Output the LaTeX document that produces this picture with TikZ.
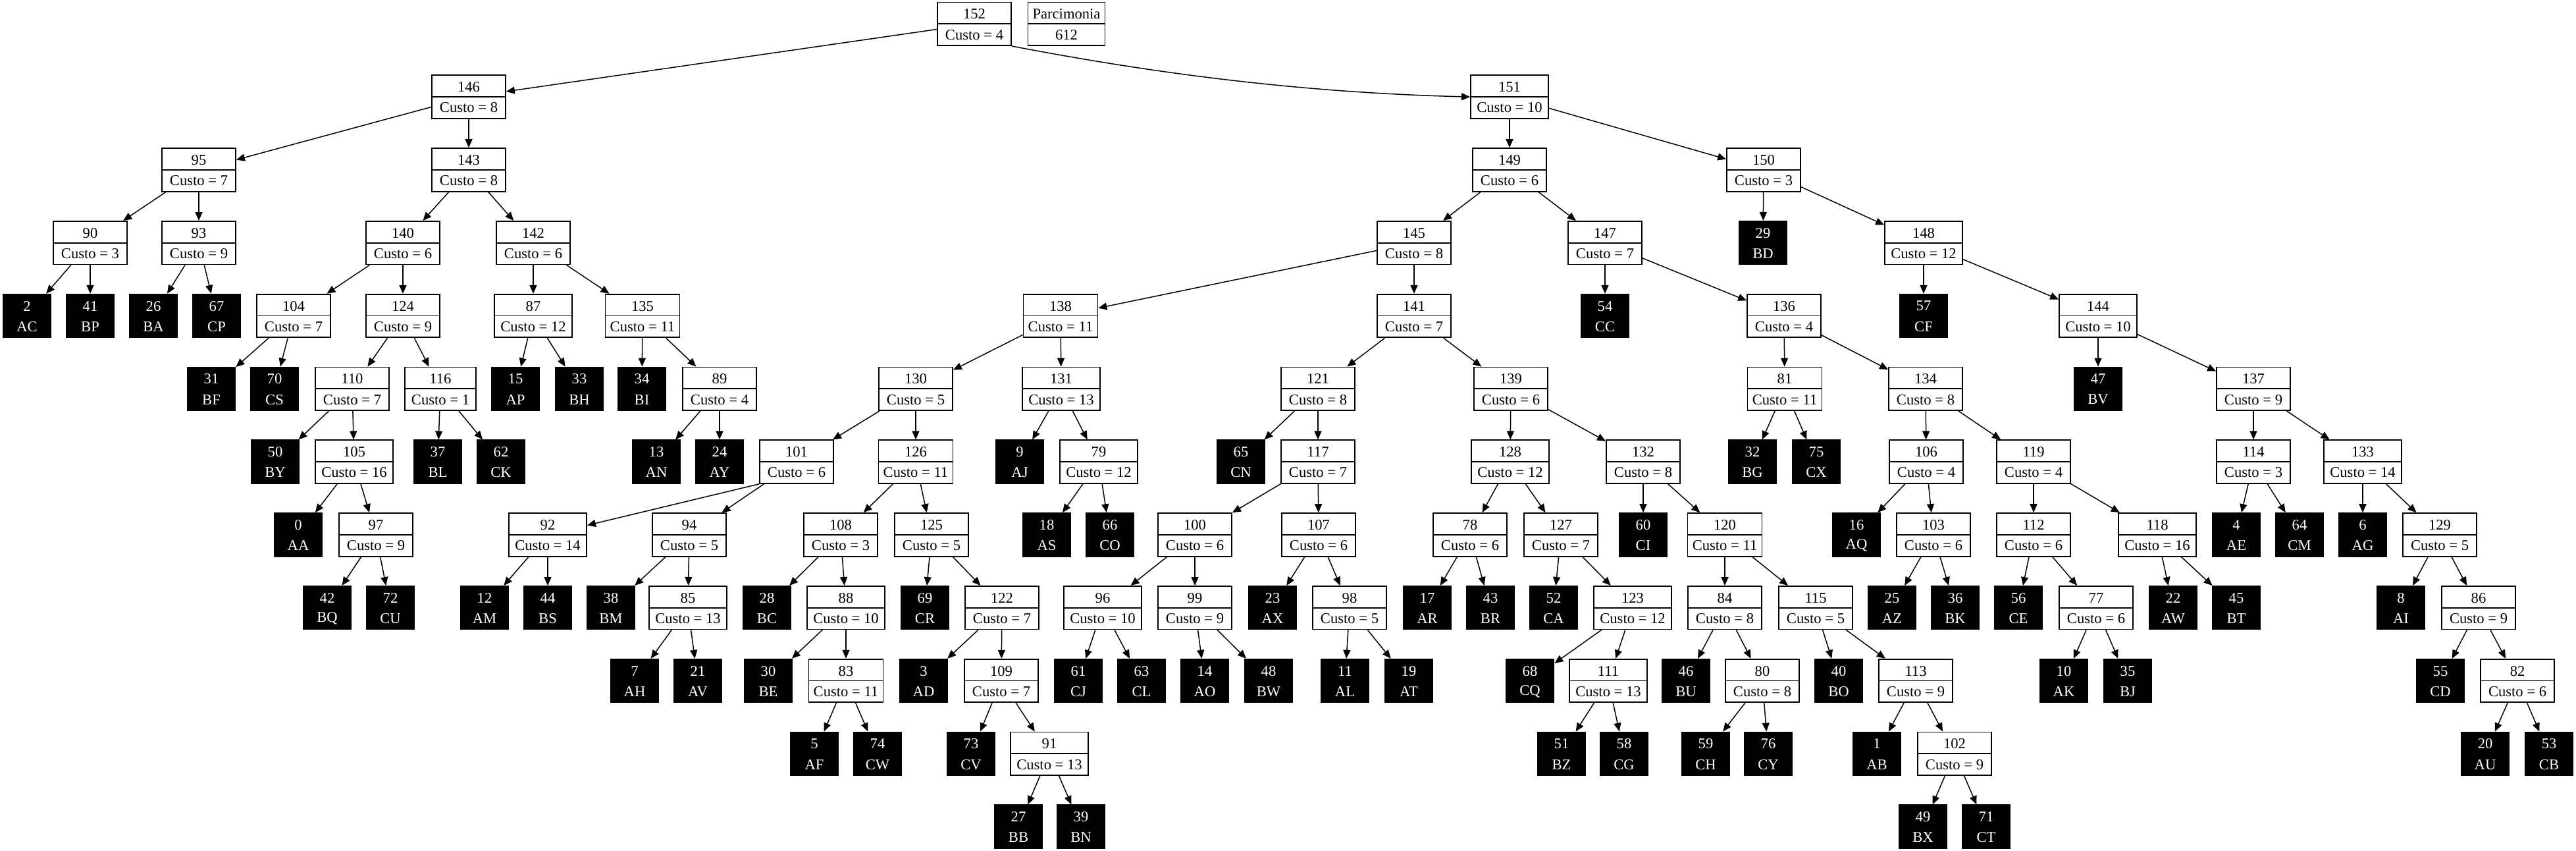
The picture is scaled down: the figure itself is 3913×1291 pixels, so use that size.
\documentclass[tikz,border=0pt]{standalone}
\usepackage{fontspec}
\setmainfont{Liberation Serif}
\usetikzlibrary{shapes.multipart,arrows.meta}
\def\nodew{56pt}
\newcommand\cellA[1]{\vbox to 15.5pt{\vfil\vskip1.6pt\hbox to \nodew{\hss #1\hss}\vfil}}
\newcommand\cellB[1]{\vbox to 15.5pt{\vfil\hbox to \nodew{\hss #1\hss}\vfil}}
\newcommand\mkin[4]{%
  \def\nodew{56pt}%
  \ifnum#2=1 \def\nodew{54pt}\fi
  \ifnum#2>9 \def\nodew{59pt}\fi
  \ifnum#2=11 \def\nodew{56.5pt}\fi
  \node[inn] (n#1) at (#3,{36.3+110.8*#4}) {\cellA{#1}\nodepart{two}\cellB{Custo = #2}};}
\newcommand\mklf[4]{%
  \def\nodew{36.5pt}%
  \node[lf] (n#1) at (#3,{36.3+110.8*#4}) {\cellA{#1}\nodepart{two}\cellB{#2}};}
\begin{document}
\begin{tikzpicture}[x=0.5pt,y=-0.5pt,
  box/.style={rectangle split, rectangle split parts=2, inner xsep=0pt, inner ysep=0pt,
    line width=0.9pt, font=\fontsize{11.3pt}{13pt}\selectfont},
  inn/.style={box, draw=black, fill=white},
  lf/.style={box, draw=black, fill=black, text=white},
  edge/.style={line width=0.75pt, -{Triangle[length=6.5pt,width=5.5pt]}}]
\useasboundingbox[fill=white] (0,0) rectangle (3913,1291);
% internal nodes
\mkin{152}{4}{1480}{0}
\begingroup\def\nodew{58.5pt}%
\node[inn] (parc) at (1620,36.3) {\cellA{Parcimonia}\nodepart{two}\cellB{612}};
\endgroup
\mkin{146}{8}{712}{1}
\mkin{151}{10}{2293}{1}
\mkin{95}{7}{302}{2}
\mkin{143}{8}{712}{2}
\mkin{149}{6}{2293}{2}
\mkin{150}{3}{2679}{2}
\mkin{90}{3}{137}{3}
\mkin{93}{9}{302}{3}
\mkin{140}{6}{612}{3}
\mkin{142}{6}{810}{3}
\mkin{145}{8}{2148}{3}
\mkin{147}{7}{2438}{3}
\mkin{148}{12}{2922}{3}
\mkin{104}{7}{446}{4}
\mkin{124}{9}{612}{4}
\mkin{87}{12}{810}{4}
\mkin{135}{11}{976}{4}
\mkin{138}{11}{1611}{4}
\mkin{141}{7}{2148}{4}
\mkin{136}{4}{2710}{4}
\mkin{144}{10}{3187}{4}
\mkin{110}{7}{535}{5}
\mkin{116}{1}{669}{5}
\mkin{89}{4}{1093}{5}
\mkin{130}{5}{1391}{5}
\mkin{131}{13}{1612}{5}
\mkin{121}{8}{2002}{5}
\mkin{139}{6}{2295}{5}
\mkin{81}{11}{2711}{5}
\mkin{134}{8}{2925}{5}
\mkin{137}{9}{3423}{5}
\mkin{105}{16}{538}{6}
\mkin{101}{6}{1210}{6}
\mkin{126}{11}{1391}{6}
\mkin{79}{12}{1669}{6}
\mkin{117}{7}{2002}{6}
\mkin{128}{12}{2294}{6}
\mkin{132}{8}{2496}{6}
\mkin{106}{4}{2926}{6}
\mkin{119}{4}{3089}{6}
\mkin{114}{3}{3423}{6}
\mkin{133}{14}{3589}{6}
\mkin{97}{9}{571}{7}
\mkin{92}{14}{832}{7}
\mkin{94}{5}{1047}{7}
\mkin{108}{3}{1277}{7}
\mkin{125}{5}{1415}{7}
\mkin{100}{6}{1815}{7}
\mkin{107}{6}{2003}{7}
\mkin{78}{6}{2233}{7}
\mkin{127}{7}{2371}{7}
\mkin{120}{11}{2620}{7}
\mkin{103}{6}{2937}{7}
\mkin{112}{6}{3089}{7}
\mkin{118}{16}{3277}{7}
\mkin{129}{5}{3706}{7}
\mkin{85}{13}{1045}{8}
\mkin{88}{10}{1285}{8}
\mkin{122}{7}{1522}{8}
\mkin{96}{10}{1675}{8}
\mkin{99}{9}{1815}{8}
\mkin{98}{5}{2050}{8}
\mkin{123}{12}{2480}{8}
\mkin{84}{8}{2620}{8}
\mkin{115}{5}{2758}{8}
\mkin{77}{6}{3184}{8}
\mkin{86}{9}{3765}{8}
\mkin{83}{11}{1285}{9}
\mkin{109}{7}{1521}{9}
\mkin{111}{13}{2443}{9}
\mkin{80}{8}{2677}{9}
\mkin{113}{9}{2910}{9}
\mkin{82}{6}{3824}{9}
\mkin{91}{13}{1594}{10}
\mkin{102}{9}{2969}{10}
% leaves
\mklf{0}{AA}{453}{7}
\mklf{1}{AB}{2851}{10}
\mklf{2}{AC}{41}{4}
\mklf{3}{AD}{1403}{9}
\mklf{4}{AE}{3397}{7}
\mklf{5}{AF}{1237}{10}
\mklf{6}{AG}{3589}{7}
\mklf{7}{AH}{964}{9}
\mklf{8}{AI}{3647}{8}
\mklf{9}{AJ}{1549}{6}
\mklf{10}{AK}{3135}{9}
\mklf{11}{AL}{2043}{9}
\mklf{12}{AM}{736}{8}
\mklf{13}{AN}{997}{6}
\mklf{14}{AO}{1830}{9}
\mklf{15}{AP}{783}{5}
\mklf{16}{AQ}{2820}{7}
\mklf{17}{AR}{2168}{8}
\mklf{18}{AS}{1590}{7}
\mklf{19}{AT}{2140}{9}
\mklf{20}{AU}{3775}{10}
\mklf{21}{AV}{1060}{9}
\mklf{22}{AW}{3301}{8}
\mklf{23}{AX}{1933}{8}
\mklf{24}{AY}{1093}{6}
\mklf{25}{AZ}{2874}{8}
\mklf{26}{BA}{233}{4}
\mklf{27}{BB}{1547}{11}
\mklf{28}{BC}{1165}{8}
\mklf{29}{BD}{2678}{3}
\mklf{30}{BE}{1167}{9}
\mklf{31}{BF}{321}{5}
\mklf{32}{BG}{2662}{6}
\mklf{33}{BH}{880}{5}
\mklf{34}{BI}{975}{5}
\mklf{35}{BJ}{3232}{9}
\mklf{36}{BK}{2970}{8}
\mklf{37}{BL}{665}{6}
\mklf{38}{BM}{928}{8}
\mklf{39}{BN}{1642}{11}
\mklf{40}{BO}{2793}{9}
\mklf{41}{BP}{137}{4}
\mklf{42}{BQ}{497}{8}
\mklf{43}{BR}{2264}{8}
\mklf{44}{BS}{832}{8}
\mklf{45}{BT}{3397}{8}
\mklf{46}{BU}{2561}{9}
\mklf{47}{BV}{3187}{5}
\mklf{48}{BW}{1927}{9}
\mklf{49}{BX}{2921}{11}
\mklf{50}{BY}{418}{6}
\mklf{51}{BZ}{2372}{10}
\mklf{52}{CA}{2360}{8}
\mklf{53}{CB}{3872}{10}
\mklf{54}{CC}{2438}{4}
\mklf{55}{CD}{3707}{9}
\mklf{56}{CE}{3066}{8}
\mklf{57}{CF}{2922}{4}
\mklf{58}{CG}{2467}{10}
\mklf{59}{CH}{2591}{10}
\mklf{60}{CI}{2496}{7}
\mklf{61}{CJ}{1638}{9}
\mklf{62}{CK}{761}{6}
\mklf{63}{CL}{1734}{9}
\mklf{64}{CM}{3493}{7}
\mklf{65}{CN}{1885}{6}
\mklf{66}{CO}{1686}{7}
\mklf{67}{CP}{329}{4}
\mklf{68}{CQ}{2324}{9}
\mklf{69}{CR}{1405}{8}
\mklf{70}{CS}{417}{5}
\mklf{71}{CT}{3017}{11}
\mklf{72}{CU}{593}{8}
\mklf{73}{CV}{1475}{10}
\mklf{74}{CW}{1333}{10}
\mklf{75}{CX}{2759}{6}
\mklf{76}{CY}{2686}{10}
% edges
\draw[edge] (n152.south east) .. controls (1720,105) and (1950,140) .. (n151.west);
\draw[edge] (n101.south west) -- (n92);
\foreach \a/\b in {152/146, 146/95, 146/143, 95/90, 95/93, 90/2, 90/41, 93/26, 93/67,
  143/140, 143/142, 140/104, 140/124, 104/31, 104/70, 124/110, 124/116, 110/50, 110/105,
  105/0, 105/97, 97/42, 97/72, 116/37, 116/62, 142/87, 142/135, 87/15, 87/33, 135/34,
  135/89, 89/13, 89/24, 151/149, 151/150, 149/145, 149/147, 145/138, 145/141, 138/130,
  138/131, 130/101, 130/126, 101/94, 92/12, 92/44, 94/38, 94/85, 85/7, 85/21, 126/108,
  126/125, 108/28, 108/88, 88/30, 88/83, 83/5, 83/74, 125/69, 125/122, 122/3, 122/109,
  109/73, 109/91, 91/27, 91/39, 131/9, 131/79, 79/18, 79/66, 141/121, 141/139, 121/65,
  121/117, 117/100, 117/107, 100/96, 100/99, 96/61, 96/63, 99/14, 99/48, 107/23, 107/98,
  98/11, 98/19, 139/128, 139/132, 128/78, 128/127, 78/17, 78/43, 127/52, 127/123,
  123/68, 123/111, 111/51, 111/58, 132/60, 132/120, 120/84, 120/115, 84/46, 84/80,
  80/59, 80/76, 115/40, 115/113, 113/1, 113/102, 102/49, 102/71, 147/54, 147/136,
  136/81, 136/134, 81/32, 81/75, 134/106, 134/119, 106/16, 106/103, 103/25, 103/36,
  119/112, 119/118, 112/56, 112/77, 77/10, 77/35, 118/22, 118/45, 150/29, 150/148,
  148/57, 148/144, 144/47, 144/137, 137/114, 137/133, 114/4, 114/64, 133/6, 133/129,
  129/8, 129/86, 86/55, 86/82, 82/20, 82/53}
  \draw[edge] (n\a) -- (n\b);
\end{tikzpicture}
\end{document}
